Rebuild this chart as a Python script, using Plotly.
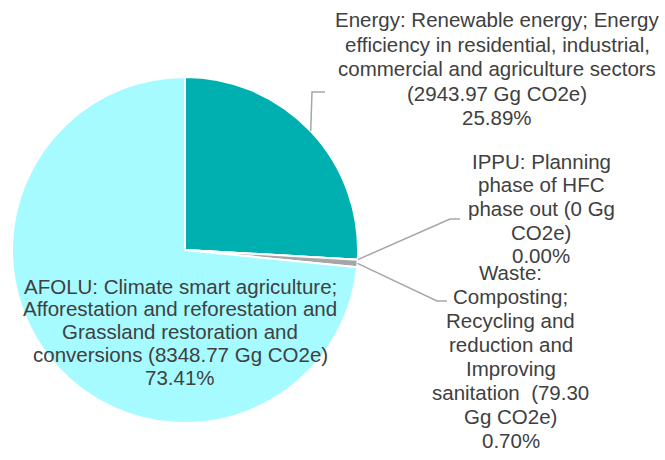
import math

import plotly.graph_objects as go

W, H = 665, 460

SECTORS = ["Energy", "IPPU", "Waste", "AFOLU"]
EMISSIONS = [2943.97, 0.0, 79.30, 8348.77]
COLORS = ["#00AFAF", "#5B9BD5", "#A6A6A6", "#A5FBFF"]

LABELS = {
    "Energy": [
        "Energy: Renewable energy; Energy",
        "efficiency in residential, industrial,",
        "commercial and agriculture sectors",
        "(2943.97 Gg CO2e)",
        "25.89%",
    ],
    "IPPU": [
        "IPPU: Planning",
        "phase of HFC",
        "phase out (0 Gg",
        "CO2e)",
        "0.00%",
    ],
    "Waste": [
        "Waste:",
        "Composting;",
        "Recycling and",
        "reduction and",
        "Improving",
        "sanitation  (79.30",
        "Gg CO2e)",
        "0.70%",
    ],
    "AFOLU": [
        "AFOLU: Climate smart agriculture;",
        "Afforestation and reforestation and",
        "Grassland restoration and",
        "conversions (8348.77 Gg CO2e)",
        "73.41%",
    ],
}

# label block placement in pixels: centre x, first line y, line step
LABEL_POS = {
    "Energy": (497, 20, 24.4),
    "IPPU": (541, 161, 23.7),
    "Waste": (511, 272, 24.0),
    "AFOLU": (180, 286, 22.8),
}

# leader line elbows (pixels): bend point, end point
LEADERS = {
    "Energy": [(312, 92), (325, 92)],
    "IPPU": [(450, 219), (460, 219)],
    "Waste": [(437, 301), (447, 301)],
}

CX, CY, R = 185, 250, 173
FONT = "Liberation Sans, Arial, sans-serif"
TEXT_COLOR = "#404040"


def px(x, y):
    return x / W, 1 - y / H


fig = go.Figure(
    go.Pie(
        labels=SECTORS,
        values=EMISSIONS,
        sort=False,
        direction="clockwise",
        rotation=0,
        marker=dict(colors=COLORS, line=dict(color="white", width=2)),
        textinfo="none",
        hoverinfo="label+value+percent",
        domain=dict(
            x=[(CX - R) / W, (CX + R) / W],
            y=[1 - (CY + R) / H, 1 - (CY - R) / H],
        ),
        showlegend=False,
    )
)

# leader lines start on the rim at each slice's mid angle
total = sum(EMISSIONS)
cum = 0.0
for name, val in zip(SECTORS, EMISSIONS):
    mid = (cum + val / 2) / total * 2 * math.pi
    cum += val
    if name not in LEADERS:
        continue
    sx = CX + R * math.sin(mid)
    sy = CY - R * math.cos(mid)
    pts = [(sx, sy)] + LEADERS[name]
    path = "M " + " L ".join(f"{px(x, y)[0]:.5f},{px(x, y)[1]:.5f}" for x, y in pts)
    fig.add_shape(
        type="path", path=path, xref="paper", yref="paper",
        line=dict(color="#A6A6A6", width=1.5),
    )

for name, lines in LABELS.items():
    cx, y0, step = LABEL_POS[name]
    for i, line in enumerate(lines):
        x, y = px(cx, y0 + i * step)
        fig.add_annotation(
            x=x, y=y, xref="paper", yref="paper", text=line,
            showarrow=False, xanchor="center", yanchor="middle",
            font=dict(family=FONT, size=20.5, color=TEXT_COLOR),
        )

fig.update_layout(
    width=W,
    height=H,
    margin=dict(l=0, r=0, t=0, b=0),
    paper_bgcolor="white",
    plot_bgcolor="white",
)

# drop the page's default body margin so the figure fills the window
fig.write_html(
    "out.html",
    config={"displayModeBar": False},
    post_script="document.body.style.margin='0';",
)
